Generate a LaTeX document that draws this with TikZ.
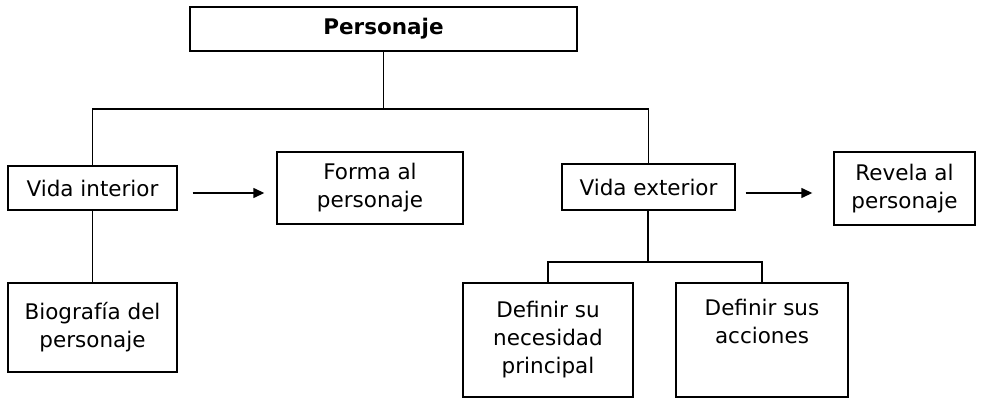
\documentclass[tikz,border=0pt]{standalone}
\usepackage{fontspec}
\setmainfont{DejaVu Sans}
\usetikzlibrary{arrows.meta}
\begin{document}
\begin{tikzpicture}[x=1pt,y=-1pt,
  box/.style={draw, line width=1.4pt, rectangle, inner sep=0pt, align=center,
    font=\fontsize{21.5}{28}\selectfont},
  conn/.style={line width=1.4pt},
  arr/.style={line width=1.4pt, -{Triangle[length=11pt,width=10pt]}}]
\useasboundingbox (0,0) rectangle (982,401);
\node[box, minimum width=387pt, minimum height=44pt, font=\fontsize{21.5}{28}\selectfont\bfseries] (personaje) at (383.5,29) {Personaje};
\node[box, minimum width=169pt, minimum height=44pt] (vint) at (92.5,188) {Vida interior};
\node[box, minimum width=186pt, minimum height=72pt] (forma) at (370,188) {Forma al\\personaje};
\node[box, minimum width=173pt, minimum height=46pt] (vext) at (648.5,187) {Vida exterior};
\node[box, minimum width=141pt, minimum height=73pt] (revela) at (904.5,188.5) {Revela al\\personaje};
\node[box, minimum width=169pt, minimum height=89pt] (bio) at (92.5,327.5) {Biografía del\\personaje};
\node[box, minimum width=170pt, minimum height=114pt] (defn) at (548,340) {Definir su\\necesidad\\principal};
\node[box, minimum width=172pt, minimum height=114pt] (defa) at (762,340) {Definir sus\\acciones\\\strut};
\coordinate (j1) at (383.5,109);
\coordinate (j2) at (648,262);
\draw[conn] (personaje.south) -- (j1);
\draw[conn] (vint.north) -- (vint.north |- j1) -- (vext.north |- j1) -- (vext.north);
\draw[conn] (vint.south) -- (bio.north);
\draw[conn] (vext.south -| j2) -- (j2);
\draw[conn] (defn.north) -- (defn.north |- j2) -- (defa.north |- j2) -- (defa.north);
\draw[arr, shorten <=15pt, shorten >=12pt] ([yshift=-5pt]vint.east) -- ([yshift=-5pt]vint.east -| forma.west);
\draw[arr, shorten <=10pt, shorten >=21pt] ([yshift=-6pt]vext.east) -- ([yshift=-6pt]vext.east -| revela.west);
\end{tikzpicture}
\end{document}
